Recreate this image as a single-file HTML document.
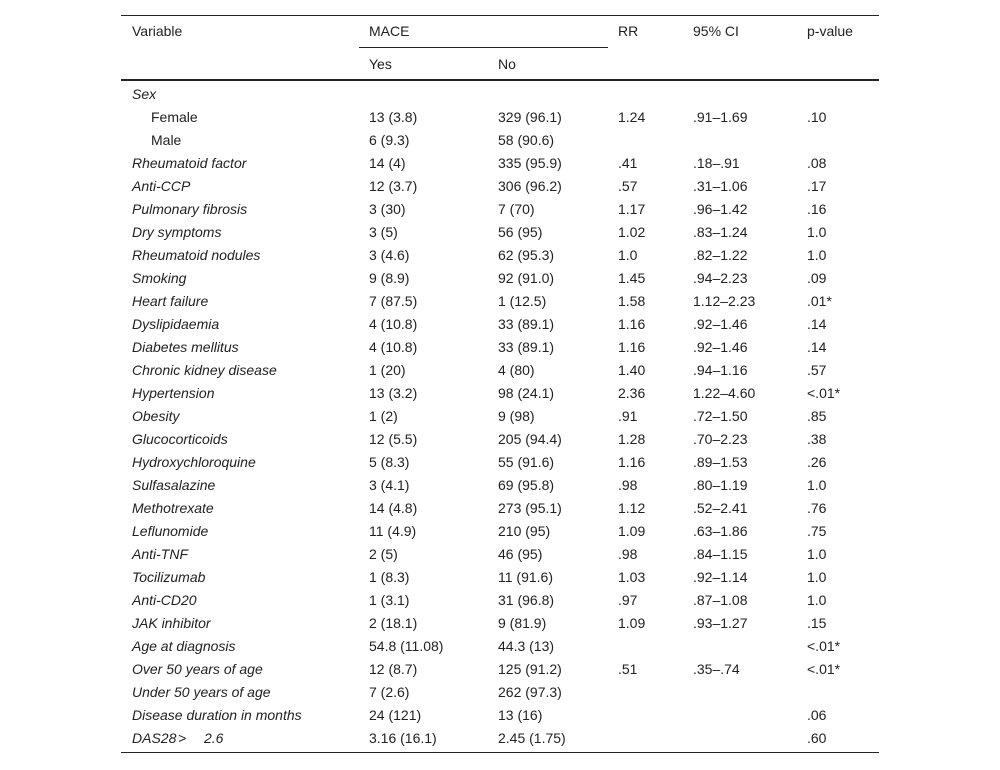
<!DOCTYPE html>
<html><head><meta charset="utf-8"><style>
body{margin:0;background:#fff;width:1000px;height:770px;position:relative;font-family:"Liberation Sans",sans-serif;font-size:14px;color:#222;overflow:hidden}
.t{position:absolute;white-space:nowrap;line-height:16px}
.i{font-style:italic}
.ln{position:absolute;background:#222}
</style></head><body>
<div class="ln" style="left:121px;top:15px;width:758px;height:1px"></div>
<div class="ln" style="left:359px;top:47px;width:249px;height:1px"></div>
<div class="ln" style="left:121px;top:79px;width:758px;height:2px"></div>
<div class="ln" style="left:121px;top:752px;width:758px;height:1px"></div>
<div id="tbl"></div>
<script>
const headers=[["Variable",132,31],["MACE",369,31],["RR",618,31],["95% CI",693,31],["p-value",807,31],["Yes",369,64],["No",498,64]];
const rows=[
["Sex",0,"","","","",""],
["Female",1,"13 (3.8)","329 (96.1)","1.24",".91\u20131.69",".10"],
["Male",1,"6 (9.3)","58 (90.6)","","",""],
["Rheumatoid factor",0,"14 (4)","335 (95.9)",".41",".18\u2013.91",".08"],
["Anti-CCP",0,"12 (3.7)","306 (96.2)",".57",".31\u20131.06",".17"],
["Pulmonary fibrosis",0,"3 (30)","7 (70)","1.17",".96\u20131.42",".16"],
["Dry symptoms",0,"3 (5)","56 (95)","1.02",".83\u20131.24","1.0"],
["Rheumatoid nodules",0,"3 (4.6)","62 (95.3)","1.0",".82\u20131.22","1.0"],
["Smoking",0,"9 (8.9)","92 (91.0)","1.45",".94\u20132.23",".09"],
["Heart failure",0,"7 (87.5)","1 (12.5)","1.58","1.12\u20132.23",".01*"],
["Dyslipidaemia",0,"4 (10.8)","33 (89.1)","1.16",".92\u20131.46",".14"],
["Diabetes mellitus",0,"4 (10.8)","33 (89.1)","1.16",".92\u20131.46",".14"],
["Chronic kidney disease",0,"1 (20)","4 (80)","1.40",".94\u20131.16",".57"],
["Hypertension",0,"13 (3.2)","98 (24.1)","2.36","1.22\u20134.60","<.01*"],
["Obesity",0,"1 (2)","9 (98)",".91",".72\u20131.50",".85"],
["Glucocorticoids",0,"12 (5.5)","205 (94.4)","1.28",".70\u20132.23",".38"],
["Hydroxychloroquine",0,"5 (8.3)","55 (91.6)","1.16",".89\u20131.53",".26"],
["Sulfasalazine",0,"3 (4.1)","69 (95.8)",".98",".80\u20131.19","1.0"],
["Methotrexate",0,"14 (4.8)","273 (95.1)","1.12",".52\u20132.41",".76"],
["Leflunomide",0,"11 (4.9)","210 (95)","1.09",".63\u20131.86",".75"],
["Anti-TNF",0,"2 (5)","46 (95)",".98",".84\u20131.15","1.0"],
["Tocilizumab",0,"1 (8.3)","11 (91.6)","1.03",".92\u20131.14","1.0"],
["Anti-CD20",0,"1 (3.1)","31 (96.8)",".97",".87\u20131.08","1.0"],
["JAK inhibitor",0,"2 (18.1)","9 (81.9)","1.09",".93\u20131.27",".15"],
["Age at diagnosis",0,"54.8 (11.08)","44.3 (13)","","","<.01*"],
["Over 50 years of age",0,"12 (8.7)","125 (91.2)",".51",".35\u2013.74","<.01*"],
["Under 50 years of age",0,"7 (2.6)","262 (97.3)","","",""],
["Disease duration in months",0,"24 (121)","13 (16)","","",".06"],
["DAS28",0,"3.16 (16.1)","2.45 (1.75)","","",".60"]];
const root=document.getElementById('tbl');
function put(txt,x,y,cls,name){const d=document.createElement('div');d.className='t'+(cls?' '+cls:'');d.style.left=x+'px';d.style.top=(y-8)+'px';d.textContent=txt;


root.appendChild(d);}
headers.forEach(h=>put(h[0],h[1],h[2],'','header-'+h[0].toLowerCase().replace(/[^a-z0-9]+/g,'-')));
const cx=[369,498,618,693,807];
rows.forEach((r,i)=>{const y=94+i*23;
put(r[0],r[1]?151:132,y,r[1]?'':'i','row-label');
if(r[0]==="DAS28"){put(">",178,y,'i','row-label');put("2.6",204,y,'i','row-label');}
for(let k=0;k<5;k++) if(r[k+2]) put(r[k+2],cx[k],y,'','cell');});
</script>
</body></html>
